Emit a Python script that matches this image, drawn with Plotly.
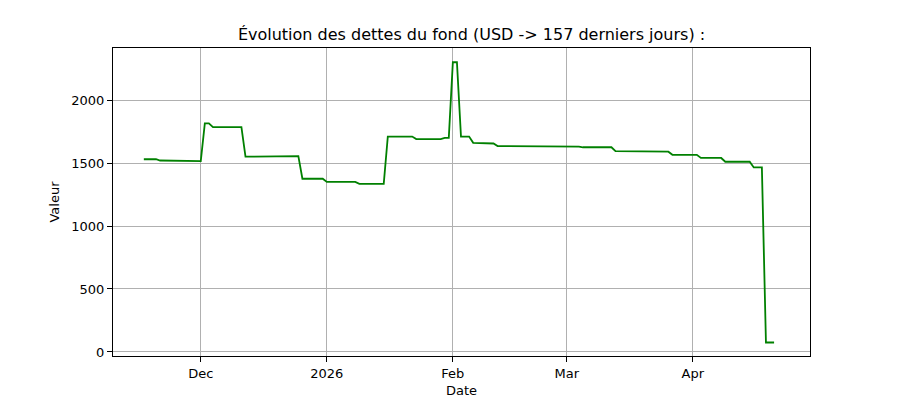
import plotly.graph_objects as go

dates = ["2025-11-17", "2025-11-20", "2025-11-21", "2025-11-28", "2025-11-29", "2025-12-01",
         "2025-12-02", "2025-12-03", "2025-12-04", "2025-12-11", "2025-12-12", "2025-12-25",
         "2025-12-26", "2025-12-31", "2026-01-01", "2026-01-08", "2026-01-09", "2026-01-15",
         "2026-01-16", "2026-01-22", "2026-01-23", "2026-01-29", "2026-01-30", "2026-01-31",
         "2026-02-01", "2026-02-02", "2026-02-03", "2026-02-05", "2026-02-06", "2026-02-09",
         "2026-02-10", "2026-02-11", "2026-02-12", "2026-02-26", "2026-02-27", "2026-03-04",
         "2026-03-05", "2026-03-12", "2026-03-13", "2026-03-19", "2026-03-20", "2026-03-26",
         "2026-03-27", "2026-04-02", "2026-04-03", "2026-04-08", "2026-04-09", "2026-04-15",
         "2026-04-16", "2026-04-18", "2026-04-19", "2026-04-21"]
values = [1530, 1530, 1520, 1520, 1515, 1515,
          1815, 1815, 1785, 1785, 1550, 1555,
          1375, 1375, 1350, 1350, 1335, 1335,
          1710, 1710, 1690, 1690, 1700, 1700,
          2300, 2300, 1710, 1710, 1660, 1660,
          1655, 1655, 1635, 1635, 1630, 1630,
          1625, 1625, 1595, 1595, 1590, 1590,
          1565, 1565, 1540, 1540, 1510, 1510,
          1465, 1465, 75, 75]

fig = go.Figure(go.Scatter(x=dates, y=values, mode="lines",
                           line=dict(color="green", width=1.8)))

axis_style = dict(showline=True, linecolor="black", mirror=True, ticks="outside",
                  tickcolor="black", showgrid=True, gridcolor="#b0b0b0", zeroline=False,
                  tickfont=dict(size=13, color="black"))

fig.update_layout(
    width=900, height=400,
    paper_bgcolor="white", plot_bgcolor="white",
    font=dict(family="DejaVu Sans", color="black"),
    margin=dict(l=105, r=98, t=40, b=52),
    title=dict(text="Évolution des dettes du fond (USD -> 157 derniers jours) :",
               x=0.515, xanchor="center", y=0.935, yanchor="middle", font=dict(size=16)),
    showlegend=False,
)
fig.update_xaxes(axis_style, range=["2025-11-09 10:00", "2026-04-29 20:00"],
                 tickvals=["2025-12-01", "2026-01-01", "2026-02-01", "2026-03-01", "2026-04-01"],
                 ticktext=["Dec", "2026", "Feb", "Mar", "Apr"],
                 title=dict(text="Date", font=dict(size=13), standoff=6))
fig.update_yaxes(axis_style, range=[-32, 2413], tickvals=[0, 500, 1000, 1500, 2000],
                 title=dict(text="Valeur", font=dict(size=13), standoff=8))

fig.write_html("out.html")
